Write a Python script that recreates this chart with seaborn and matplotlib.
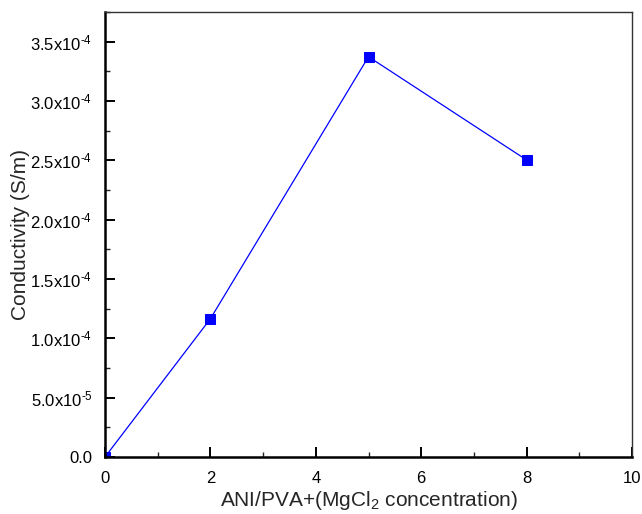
import math
import matplotlib
matplotlib.use("Agg")
import matplotlib.pyplot as plt
import seaborn as sns
import pandas as pd
from matplotlib.ticker import FuncFormatter, MultipleLocator

concentration = [0, 2, 5, 8]
conductivity = [0.0, 1.165e-4, 3.373e-4, 2.503e-4]

sns.set_style("white")
plt.rcParams['font.family'] = ['Liberation Sans', 'DejaVu Sans']
plt.rcParams['mathtext.fontset'] = 'custom'
plt.rcParams['mathtext.rm'] = 'Liberation Sans'
plt.rcParams['mathtext.it'] = 'Liberation Sans:italic'

df = pd.DataFrame({"x": concentration, "y": conductivity})

fig = plt.figure(figsize=(6.42, 5.14), dpi=100)
ax = fig.add_axes([105/642, 57/514, 527/642, 445/514])
sns.lineplot(data=df, x="x", y="y", ax=ax, color="#0000ff", marker="s",
             markersize=7, markeredgecolor="#0000ff", linewidth=0.9)

ax.set_xlim(0, 10)
ax.set_ylim(0, 3.75e-4)
ax.xaxis.set_major_locator(MultipleLocator(2))
ax.xaxis.set_minor_locator(MultipleLocator(1))
ax.yaxis.set_major_locator(MultipleLocator(5e-5))
ax.yaxis.set_minor_locator(MultipleLocator(2.5e-5))

def fmt(v, pos):
    if abs(v) < 1e-12:
        return "0.0"
    e = int(math.floor(math.log10(abs(v)) + 1e-9))
    m = v / 10**e
    return r"$\mathregular{%.1fx10^{\text{-}%d}}$" % (m, -e)

ax.yaxis.set_major_formatter(FuncFormatter(fmt))

for s in ["left", "bottom"]:
    ax.spines[s].set_linewidth(1.8)
    ax.spines[s].set_color("black")
for s in ["top", "right"]:
    ax.spines[s].set_linewidth(1.0)
    ax.spines[s].set_color("#333333")

ax.tick_params(which="major", direction="in", length=7, width=1.4, labelsize=12,
               colors="black", left=True, bottom=True, top=False, right=False)
ax.tick_params(axis="x", which="major", pad=10)
ax.tick_params(axis="y", which="major", pad=9)
ax.tick_params(which="minor", direction="in", length=3.5, width=1.0,
               left=True, bottom=True, top=False, right=False)

ax.set_xlabel(r"ANI/PVA+(MgCl$_2$ concentration)", fontsize=15, labelpad=2)
ax.set_ylabel("Conductivity (S/m)", fontsize=15, labelpad=0)

fig.savefig("out.png", dpi=100)
